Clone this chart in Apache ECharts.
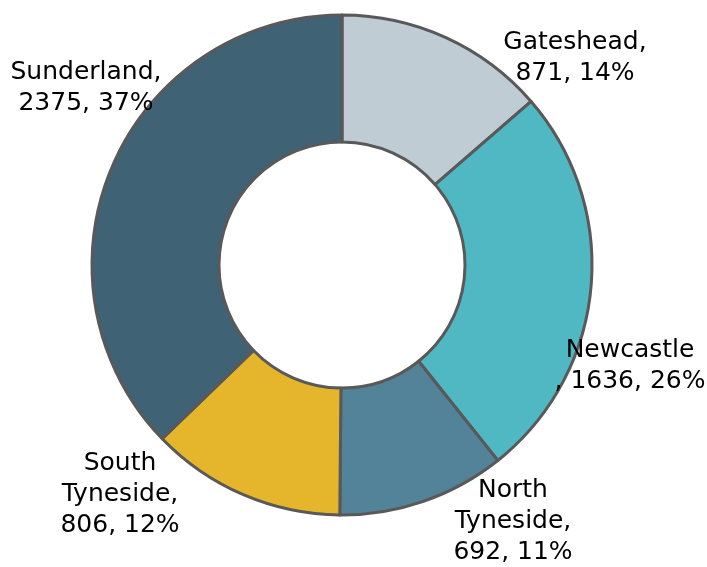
<!DOCTYPE html>
<html>
<head>
<meta charset="utf-8">
<style>
  html, body { margin: 0; padding: 0; background: #ffffff; }
  #chart { width: 707px; height: 567px; }
</style>
<script src="https://cdn.jsdelivr.net/npm/echarts@6/dist/echarts.min.js"></script>
</head>
<body>
<div id="chart"></div>
<script>
// Boroughs and their counts, in clockwise order from 12 o'clock
const areas = ['Gateshead', 'Newcastle', 'North Tyneside', 'South Tyneside', 'Sunderland'];
const counts = [871, 1636, 692, 806, 2375];
// How each area name is broken across lines in its label
const labelNames = ['Gateshead,', 'Newcastle\n,', 'North\nTyneside,', 'South\nTyneside,', 'Sunderland,'];
// Separator between the name and the value ("\n" or " ")
const labelJoins = ['\n', ' ', '\n', '\n', '\n'];
const colors = ['#BFCCD4', '#4FB8C3', '#528399', '#E5B52B', '#3F6374'];

// Label anchor points (centre of each text block)
const labelSpots = [
  [575, 58],
  [630, 366],
  [513, 521],
  [120, 494],
  [86, 88]
];

const chart = echarts.init(document.getElementById('chart'), null, { renderer: 'canvas' });

const data = areas.map((name, i) => ({
  name: name,
  value: counts[i],
  itemStyle: { color: colors[i] },
  label: {
    formatter: labelNames[i] + labelJoins[i] + '{c}, {d}%'
  }
}));

chart.setOption({
  animation: false,
  series: [{
    type: 'pie',
    center: [342, 265],
    radius: [123, 250],
    startAngle: 90,
    clockwise: true,
    percentPrecision: 0,
    data: data,
    itemStyle: {
      borderColor: '#595959',
      borderWidth: 3
    },
    label: {
      show: true,
      position: 'outside',
      fontFamily: 'DejaVu Sans',
      fontSize: 25,
      lineHeight: 31,
      color: '#000000',
      align: 'center',
      overflow: 'none',
      width: 400
    },
    labelLine: { show: false },
    labelLayout: function (params) {
      const p = labelSpots[params.dataIndex];
      return {
        x: p[0],
        y: p[1],
        align: 'center',
        verticalAlign: 'middle'
      };
    },
    emphasis: { disabled: true }
  }]
});
</script>
</body>
</html>
